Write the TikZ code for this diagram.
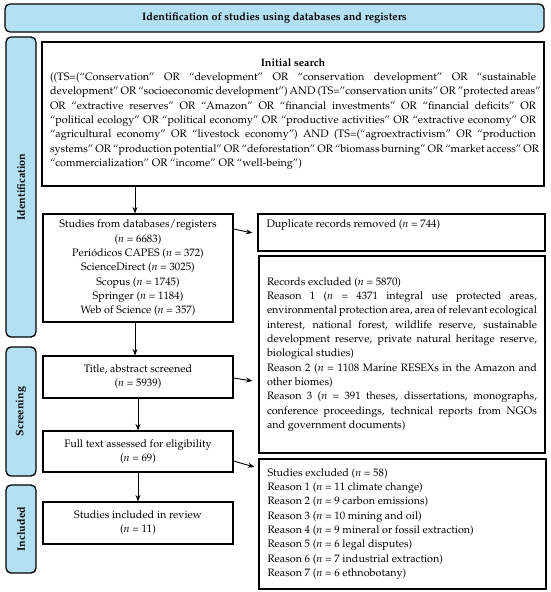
\documentclass[tikz,border=0pt]{standalone}
\usepackage[T1]{fontenc}
\usepackage{mathpazo}
\usetikzlibrary{arrows.meta,calc}
\definecolor{lblue}{RGB}{180,224,243}
\newcommand{\jl}[2]{\makebox[#1][s]{#2}}
\newcommand{\vn}{\textit{n}}
\begin{document}
\begin{tikzpicture}[x=1pt,y=-1pt,
  every node/.style={font=\fontsize{10.8}{14.3}\selectfont, inner sep=0pt},
  box/.style={draw=black, line width=1.1pt, fill=white},
  lab/.style={draw=black, line width=1.3pt, fill=lblue, rounded corners=5pt, font=\fontsize{10.8}{14.3}\selectfont\bfseries},
  arr/.style={-{Stealth[length=6.5pt,width=5pt]}, line width=0.9pt}]
\useasboundingbox (0,0) rectangle (550,592);

% banner and side labels
\node[lab, minimum width=539, minimum height=28] (banner) at (274.5,18)
  {Identification of studies using databases and registers};
\node[lab, rotate=90, minimum width=300, minimum height=30] (idlab) at (21,187) {Identification};
\node[lab, rotate=90, minimum width=129, minimum height=30] (scrlab) at (21,411.5) {Screening};
\node[lab, rotate=90, minimum width=88, minimum height=30] (inclab) at (21,529) {Included};

% initial search
\node[box, minimum width=502, minimum height=144, align=left] (init) at (293,114) {%
\makebox[486pt][c]{\bfseries Initial search}\\
\jl{486pt}{((TS=(``Conservation'' OR ``development'' OR ``conservation development'' OR ``sustainable}\\
\jl{486pt}{development'' OR ``socioeconomic development'') AND (TS=''conservation units'' OR ''protected areas''}\\
\jl{486pt}{OR ``extractive reserves'' OR ``Amazon'' OR ``financial investments'' OR ``financial deficits'' OR}\\
\jl{486pt}{``political ecology'' OR ``political economy'' OR ``productive activities'' OR ``extractive economy'' OR}\\
\jl{486pt}{``agricultural economy'' OR ``livestock economy'') AND (TS=(``agroextractivism'' OR ``production}\\
\jl{486pt}{systems'' OR ``production potential'' OR ``deforestation'' OR ``biomass burning'' OR ``market access'' OR}\\
``commercialization'' OR ``income'' OR ``well-being'')};

% left column
\node[box, minimum width=190, minimum height=108, align=center] (studies) at (138,268) {%
Studies from databases/registers\\(\vn{} = 6683)\\Peri\'odicos CAPES (\vn{} = 372)\\ScienceDirect (\vn{} = 3025)\\Scopus (\vn{} = 1745)\\Springer (\vn{} = 1184)\\Web of Science (\vn{} = 357)};
\node[box, minimum width=190, minimum height=42, align=center] (title) at (138,377) {%
Title, abstract screened\\(\vn{} = 5939)};
\node[box, minimum width=190, minimum height=41, align=center] (full) at (138,451.5) {%
Full text assessed for eligibility\\(\vn{} = 69)};
\node[box, minimum width=190, minimum height=42, align=center] (incl) at (138,523) {%
Studies included in review\\(\vn{} = 11)};

% right column
\node[box, minimum width=287, minimum height=37, align=left] (dup) at (401.5,232.5) {%
\makebox[270pt][l]{Duplicate records removed (\vn{} = 744)}\\ \strut};
\node[box, minimum width=286, minimum height=197, align=left] (records) at (402,354.5) {%
Records excluded (\vn{} = 5870)\\
\jl{270pt}{Reason 1 (\vn{} = 4371 integral use protected areas,}\\
\jl{270pt}{environmental protection area, area of relevant ecological}\\
\jl{270pt}{interest, national forest, wildlife reserve, sustainable}\\
\jl{270pt}{development reserve, private natural heritage reserve,}\\
biological studies)\\
\jl{270pt}{Reason 2 (\vn{} = 1108 Marine RESEXs in the Amazon and}\\
other biomes)\\
\jl{270pt}{Reason 3 (\vn{} = 391 theses, dissertations, monographs,}\\
\jl{270pt}{conference proceedings, technical reports from NGOs}\\
\makebox[270pt][l]{and government documents)}};
\node[box, minimum width=287, minimum height=130, align=left] (excl) at (402.5,524) {%
\makebox[270pt][l]{Studies excluded (\vn{} = 58)}\\
Reason 1 (\vn{} = 11 climate change)\\
Reason 2 (\vn{} = 9 carbon emissions)\\
Reason 3 (\vn{} = 10 mining and oil)\\
Reason 4 (\vn{} = 9 mineral or fossil extraction)\\
Reason 5 (\vn{} = 6 legal disputes)\\
Reason 6 (\vn{} = 7 industrial extraction)\\
Reason 7 (\vn{} = 6 ethnobotany)};

% connectors
\draw[arr] ([xshift=-3pt]studies.north |- init.south) -- ([xshift=-3pt]studies.north);
\draw[arr] ([xshift=-3pt]studies.south) -- ([xshift=-3pt]title.north);
\draw[arr] (title.south) -- (full.north);
\draw[arr] (full.south) -- (incl.north);
\draw[arr] (studies.east |- 0,229) -- ($(dup.west |- 0,233)+(-5,0)$);
\draw[arr] (title.east |- 0,378) -- ($(records.west |- 0,381)+(-6,0)$);
\draw[arr] (full.east |- 0,461) -- ($(excl.west |- 0,467)+(-4,0)$);
\end{tikzpicture}
\end{document}
